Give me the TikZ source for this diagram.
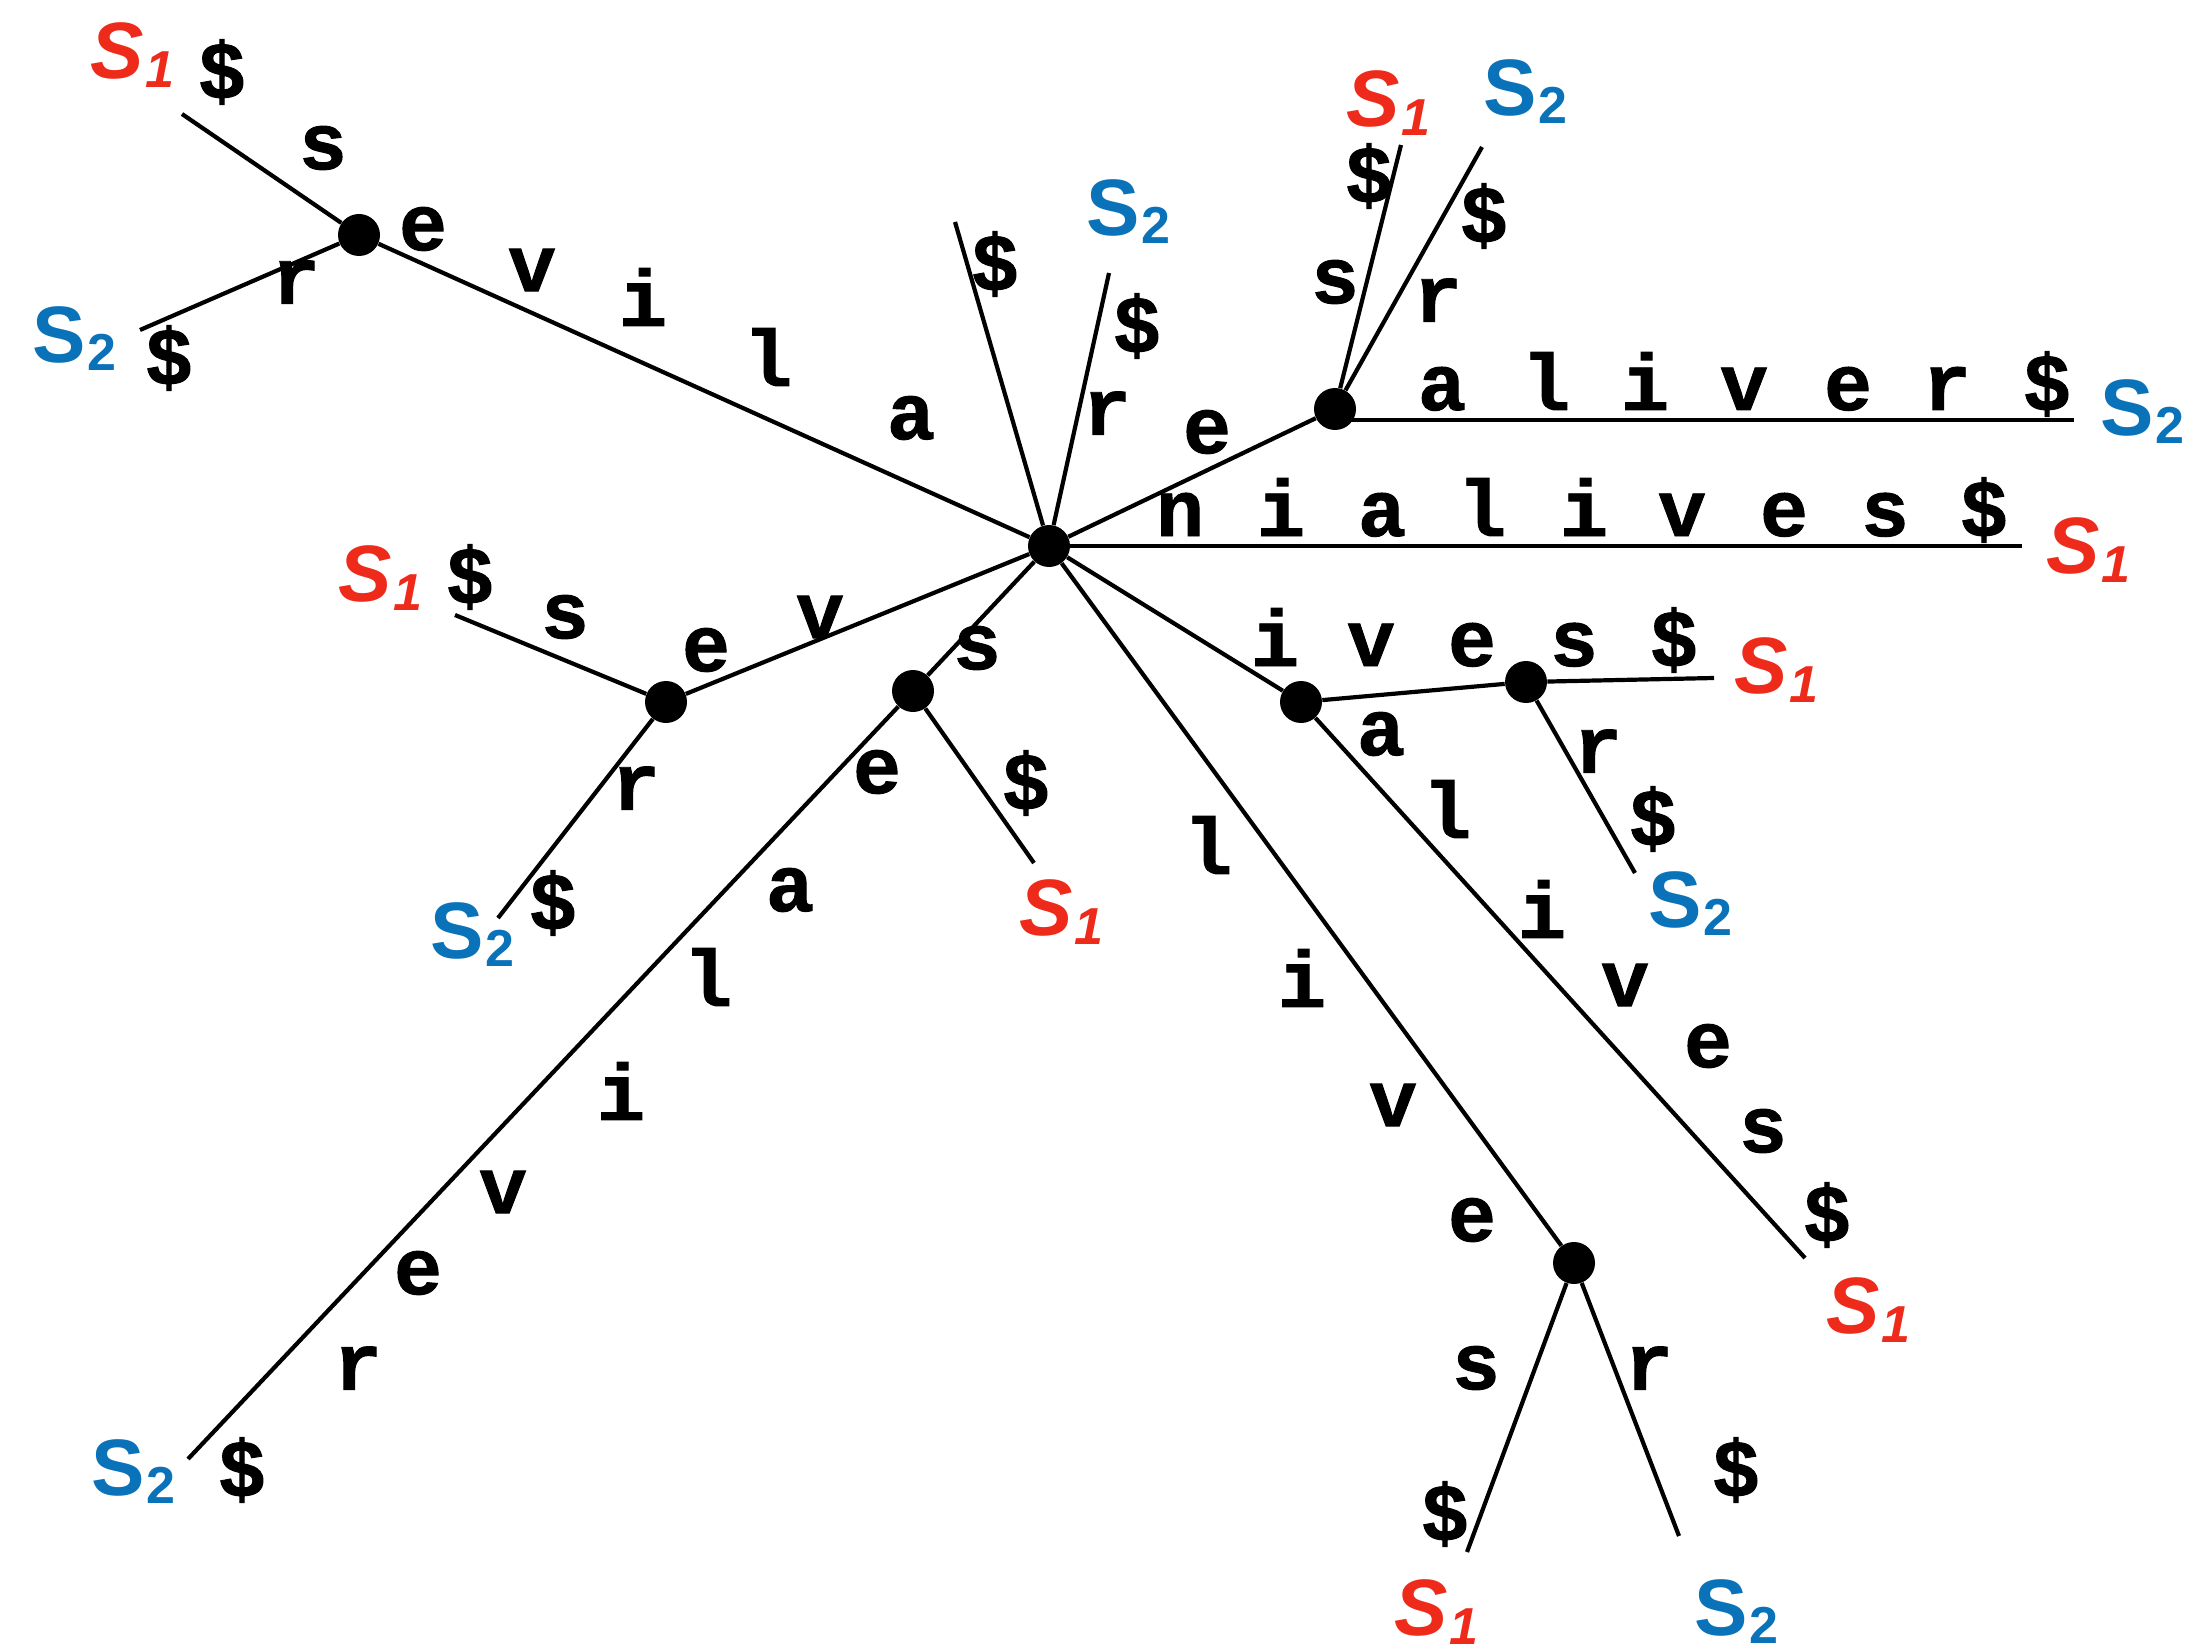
\documentclass[tikz,border=0pt]{standalone}
\usepackage{fontspec}
\newfontfamily\edgefont{Liberation Mono}[BoldFeatures={FakeBold=1.2}]
\newfontfamily\leaffont{Liberation Sans}
\usetikzlibrary{calc}
\definecolor{sonered}{HTML}{EE2A1A}
\definecolor{stwoblue}{HTML}{0A72B8}
\newcommand{\sone}{{\color{sonered}\itshape S\kern0.02em\raisebox{-4.5pt}{\fontsize{26}{26}\selectfont 1}}}
\newcommand{\stwo}{{\color{stwoblue}S\kern0.02em\raisebox{-4pt}{\fontsize{26}{26}\selectfont 2}}}

\begin{document}
\begin{tikzpicture}[
  x=0.5pt, y=-0.5pt,
  dot/.style={circle, fill=black, inner sep=0pt, minimum size=21pt},
  link/.style={line width=2.1pt},
  lab/.style={font=\edgefont\bfseries\fontsize{40}{40}\selectfont, inner sep=0pt},
  row/.style={lab, anchor=base},
  leaf/.style={font=\leaffont\bfseries\fontsize{40}{40}\selectfont, inner sep=0pt},
]
  \useasboundingbox (0,0) rectangle (2198,1652);
  % internal nodes
  \node[dot] (root)  at (1049,546) {};
  \node[dot] (alive) at (359,235) {};
  \node[dot] (e)     at (1335,409) {};
  \node[dot] (ve)    at (666,702) {};
  \node[dot] (s)     at (913,691) {};
  \node[dot] (i)     at (1301,702) {};
  \node[dot] (ive)   at (1526,682) {};
  \node[dot] (live)  at (1574,1263) {};
  % leaf ends
  \coordinate (alive-s) at (182,114);
  \coordinate (alive-r) at (140,330);
  \coordinate (root-d)  at (955,222);
  \coordinate (root-r)  at (1109,273);
  \coordinate (e-s)     at (1401,145);
  \coordinate (e-r)     at (1482,147);
  \coordinate (e-a)     at (2074,420);
  \coordinate (root-n)  at (2022,546);
  \coordinate (ve-s)    at (455,615);
  \coordinate (ve-r)    at (498,918);
  \coordinate (s-d)     at (1034,863);
  \coordinate (s-e)     at (188,1459);
  \coordinate (ive-s)   at (1714,678);
  \coordinate (ive-r)   at (1635,873);
  \coordinate (i-a)     at (1805,1258);
  \coordinate (live-s)  at (1467,1552);
  \coordinate (live-r)  at (1679,1536);
  % edges
  \draw[link] (root) -- (alive);
  \draw[link] (alive) -- (alive-s);
  \draw[link] (alive) -- (alive-r);
  \draw[link] (root) -- (root-d);
  \draw[link] (root) -- (root-r);
  \draw[link] (root) -- (e);
  \draw[link] (e) -- (e-s);
  \draw[link] (e) -- (e-r);
  \draw[link] (e-a -| e) -- (e-a);
  \draw[link] (root) -- (root-n);
  \draw[link] (root) -- (ve);
  \draw[link] (ve) -- (ve-s);
  \draw[link] (ve) -- (ve-r);
  \draw[link] (root) -- (s);
  \draw[link] (s) -- (s-d);
  \draw[link] (s) -- (s-e);
  \draw[link] (root) -- (i);
  \draw[link] (i) -- (ive);
  \draw[link] (ive) -- (ive-s);
  \draw[link] (ive) -- (ive-r);
  \draw[link] (i) -- (i-a);
  \draw[link] (root) -- (live);
  \draw[link] (live) -- (live-s);
  \draw[link] (live) -- (live-r);
  % edge letters
  \foreach \c/\x/\y [count=\k] in {e/423/229, v/532/270, i/643/297, l/768/357, a/911/418,
      s/323/148, \$/222/72, r/296/282, \$/169/358, \$/995/264, r/1107/413, \$/1137/326,
      e/1207/432, s/1335/282, \$/1369/176, r/1438/300, \$/1484/216}
    \node[lab] (ta\k) at (\x,\y) {\c};
  \foreach \c/\x [count=\k] in {a/1442, l/1546, i/1645, v/1744, e/1848, r/1947, \$/2047}
    \node[row] (tb\k) at (\x,410) {\c};
  \foreach \c/\x [count=\k] in {n/1180, i/1281, a/1382, l/1482, i/1584, v/1682, e/1784, s/1885, \$/1984}
    \node[row] (tc\k) at (\x,536) {\c};
  \foreach \c/\x [count=\k] in {i/1275, v/1371, e/1472, s/1574, \$/1674}
    \node[row] (td\k) at (\x,666) {\c};
  \foreach \c/\x/\y [count=\k] in {v/820/617, e/706/650, s/565/617, \$/470/577, r/636/788, \$/553/903,
      s/977/648, \$/1026/783, e/877/772, a/790/890, l/708/977, i/621/1091, v/503/1192,
      e/418/1273, r/358/1368, \$/242/1470}
    \node[lab] (te\k) at (\x,\y) {\c};
  \foreach \c/\x/\y [count=\k] in {a/1381/734, l/1447/809, i/1542/909, v/1625/985, e/1708/1046,
      s/1763/1131, \$/1827/1215, r/1598/751, \$/1653/819, l/1208/845, i/1302/978,
      v/1393/1105, e/1472/1220, s/1476/1368, \$/1445/1514, r/1649/1368, \$/1736/1470}
    \node[lab] (tf\k) at (\x,\y) {\c};
  % leaf labels
  \node[leaf] (l1)  at (132,55)    {\sone};
  \node[leaf] (l2)  at (74,339)    {\stwo};
  \node[leaf] (l3)  at (1128,212)  {\stwo};
  \node[leaf] (l4)  at (1388,103)  {\sone};
  \node[leaf] (l5)  at (1525,92)   {\stwo};
  \node[leaf] (l6)  at (2142,412)  {\stwo};
  \node[leaf] (l7)  at (2088,550)  {\sone};
  \node[leaf] (l8)  at (380,578)   {\sone};
  \node[leaf] (l9)  at (472,935)   {\stwo};
  \node[leaf] (l10) at (1061,912)  {\sone};
  \node[leaf] (l11) at (133,1472)  {\stwo};
  \node[leaf] (l12) at (1776,670)  {\sone};
  \node[leaf] (l13) at (1690,904)  {\stwo};
  \node[leaf] (l14) at (1868,1310) {\sone};
  \node[leaf] (l15) at (1436,1612) {\sone};
  \node[leaf] (l16) at (1736,1612) {\stwo};
\end{tikzpicture}
\end{document}
